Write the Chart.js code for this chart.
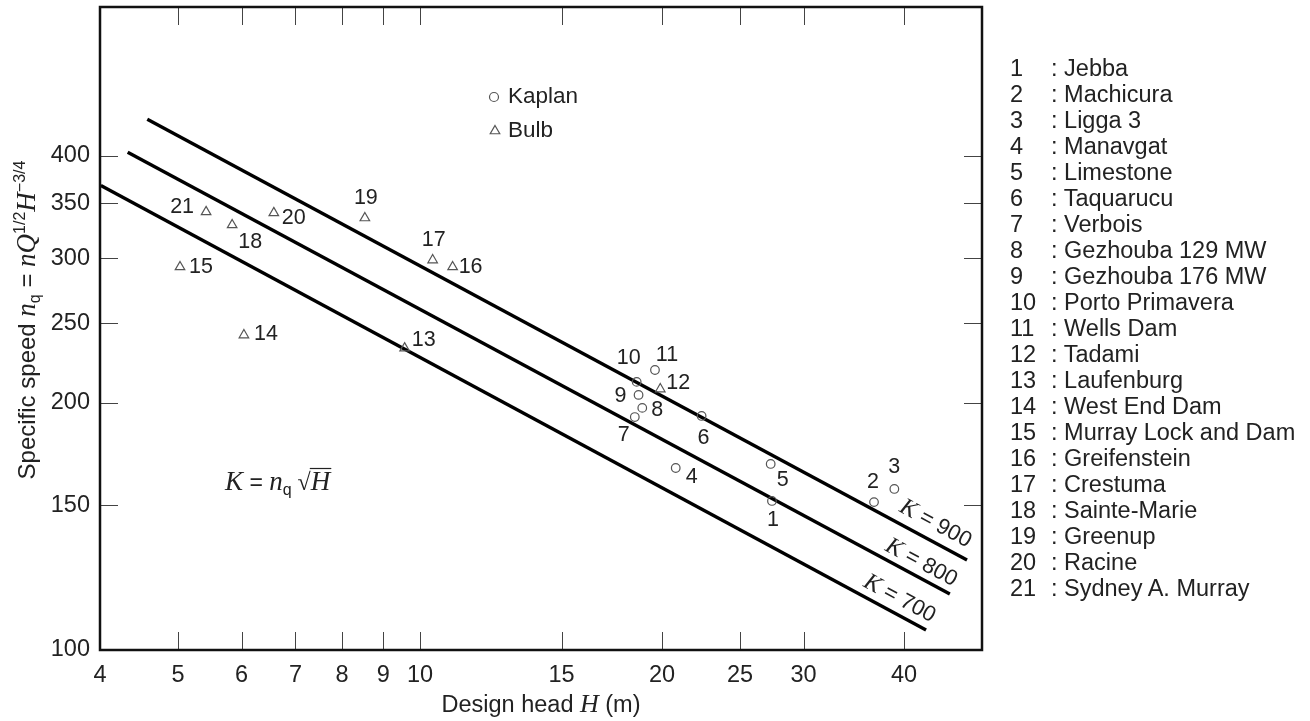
<!DOCTYPE html>
<html><head><meta charset="utf-8">
<script src="https://cdn.jsdelivr.net/npm/chart.js@4.4.0/dist/chart.umd.min.js"></script>
<style>
html,body{margin:0;padding:0;background:#fff;}
#wrap{position:relative;width:1310px;height:721px;overflow:hidden;}
#legendList{position:absolute;left:1010px;top:55px;font-family:"Liberation Sans",Arial,Helvetica,sans-serif;font-size:23.5px;color:#222;line-height:26px;white-space:nowrap;}
#legendList .n{display:inline-block;width:41px;}
</style></head><body>
<div id="wrap"><canvas id="c" width="1310" height="721"></canvas><div id="legendList"></div></div>
<script>
// ---- data ----
const stationNames = ["Jebba","Machicura","Ligga 3","Manavgat","Limestone","Taquarucu","Verbois","Gezhouba 129 MW","Gezhouba 176 MW","Porto Primavera","Wells Dam","Tadami","Laufenburg","West End Dam","Murray Lock and Dam","Greifenstein","Crestuma","Sainte-Marie","Greenup","Racine","Sydney A. Murray"];
const kaplanIds  = [1,2,3,4,5,6,7,8,9,10,11];
const kaplanHead = [27.4,36.7,38.9,20.8,27.3,22.4,18.5,18.9,18.7,18.6,19.6];
const kaplanNq   = [151.9,151.4,157.1,166.6,168.5,192.8,192.2,197.2,204.5,212.1,219.3];
const bulbIds  = [12,13,14,15,16,17,18,19,20,21];
const bulbHead = [19.9,9.57,6.04,5.03,10.98,10.37,5.84,8.54,6.58,5.42];
const bulbNq   = [207.9,233.2,241.9,292.8,292.8,298.5,329.4,335.9,340.7,341.7];
const kValues   = [900,800,700];
const kLineHead = [[4.58,47.9],[4.33,45.6],[4.01,42.6]];
const kLineNq   = [[443,128.7],[404,117.0],[368,105.8]];
const xTickValues = [4,5,6,7,8,9,10,15,20,25,30,40];
const yTickValues = [100,150,200,250,300,350,400];

// ---- styles ----
const SANS = '"Liberation Sans", Arial, Helvetica, sans-serif';
const SERIF = '"Liberation Serif", "Times New Roman", serif';
const TXT = '#222';
const MARK = '#555';
const labelOffsets = {1:[1,19],2:[-1,-20],3:[0,-22],4:[16,9],5:[12,16],6:[2,22],7:[-11,18],8:[15,2],9:[-18,1],10:[-8,-24],11:[12,-15],12:[18,-6],13:[19,-8],14:[22,-1],15:[21,0],16:[18,0],17:[1,-20],18:[18,17],19:[1,-20],20:[20,5],21:[-24,-5]};
const kLabelOffsets = [[-31,-37],[-28,-32],[-26,-32]];

// legend list (HTML text)
const ll = document.getElementById('legendList');
stationNames.forEach((n,i)=>{
  const d=document.createElement('div');
  d.innerHTML='<span class="n">'+(i+1)+'</span>: '+n;
  ll.appendChild(d);
});

function drawRuns(ctx, runs, x, y, align){
  let total=0;
  runs.forEach(r=>{ctx.font=r.font; r.w=ctx.measureText(r.t).width; total+=r.w;});
  let cx = align==='center' ? x-total/2 : x;
  runs.forEach(r=>{ctx.font=r.font; ctx.fillText(r.t, cx, y+(r.dy||0)); r.x=cx; cx+=r.w;});
  return total;
}
function circleMark(ctx,x,y,r){ctx.beginPath();ctx.arc(x,y,r,0,Math.PI*2);ctx.stroke();}
function triMark(ctx,x,y,r){
  ctx.beginPath();
  let a=0;
  ctx.moveTo(x+Math.sin(a)*r, y-Math.cos(a)*r);
  a+=2*Math.PI/3; ctx.lineTo(x+Math.sin(a)*r, y-Math.cos(a)*r);
  a+=2*Math.PI/3; ctx.lineTo(x+Math.sin(a)*r, y-Math.cos(a)*r);
  ctx.closePath(); ctx.stroke();
}

const decor = {
  id:'decor',
  afterDatasetsDraw(chart){
    const ctx=chart.ctx, a=chart.chartArea, xs=chart.scales.x, ys=chart.scales.y;
    ctx.save();
    // inward ticks on all four sides
    ctx.strokeStyle='#444'; ctx.lineWidth=1;
    const TL=18;
    xTickValues.forEach(v=>{
      const p=Math.round(xs.getPixelForValue(v))+0.5;
      ctx.beginPath(); ctx.moveTo(p,a.bottom); ctx.lineTo(p,a.bottom-TL);
      ctx.moveTo(p,a.top); ctx.lineTo(p,a.top+TL); ctx.stroke();
    });
    yTickValues.forEach(v=>{
      const p=Math.round(ys.getPixelForValue(v))+0.5;
      ctx.beginPath(); ctx.moveTo(a.left,p); ctx.lineTo(a.left+TL,p);
      ctx.moveTo(a.right,p); ctx.lineTo(a.right-TL,p); ctx.stroke();
    });
    // frame
    ctx.strokeStyle='#111'; ctx.lineWidth=2.5;
    ctx.strokeRect(a.left,a.top,a.right-a.left,a.bottom-a.top);

    // point labels
    ctx.fillStyle=TXT; ctx.font='21.5px '+SANS; ctx.textAlign='center'; ctx.textBaseline='middle';
    const lab=(ids,hs,ns)=>ids.forEach((id,i)=>{
      const px=xs.getPixelForValue(hs[i]), py=ys.getPixelForValue(ns[i]);
      const o=labelOffsets[id];
      ctx.fillText(String(id), px+o[0], py+o[1]);
    });
    lab(kaplanIds,kaplanHead,kaplanNq);
    lab(bulbIds,bulbHead,bulbNq);

    // K labels along lines
    ctx.textAlign='left'; ctx.textBaseline='middle';
    kValues.forEach((k,i)=>{
      const x1=xs.getPixelForValue(kLineHead[i][0]), y1=ys.getPixelForValue(kLineNq[i][0]);
      const x2=xs.getPixelForValue(kLineHead[i][1]), y2=ys.getPixelForValue(kLineNq[i][1]);
      const ang=Math.atan2(y2-y1,x2-x1);
      ctx.save();
      ctx.translate(x2+kLabelOffsets[i][0], y2+kLabelOffsets[i][1]);
      ctx.rotate(ang);
      drawRuns(ctx,[{t:'K',font:'italic 24px '+SERIF},{t:' = '+k,font:'22px '+SANS}],0,1,'center');
      ctx.restore();
    });

    // formula K = n_q sqrt(H)
    ctx.textBaseline='alphabetic'; ctx.textAlign='left';
    const runs=[{t:'K',font:'italic 27px '+SERIF},{t:' = ',font:'23px '+SANS},{t:'n',font:'italic 27px '+SERIF},
      {t:'q',font:'16px '+SANS,dy:5},{t:' \u221A',font:'24px '+SERIF},{t:'H',font:'italic 27px '+SERIF}];
    drawRuns(ctx,runs,225,490,'left');
    const hr=runs[5];
    ctx.strokeStyle=TXT; ctx.lineWidth=1.2;
    ctx.beginPath(); ctx.moveTo(hr.x-1,468.5); ctx.lineTo(hr.x+hr.w+1,468.5); ctx.stroke();

    // Kaplan / Bulb key
    ctx.strokeStyle=MARK; ctx.lineWidth=1.2;
    circleMark(ctx,494,97,4.5);
    triMark(ctx,495,131,5.5);
    ctx.fillStyle=TXT; ctx.font='22.5px '+SANS; ctx.textBaseline='middle';
    ctx.fillText('Kaplan',508,97);
    ctx.fillText('Bulb',508,131);

    // x axis title
    ctx.textBaseline='alphabetic';
    drawRuns(ctx,[{t:'Design head ',font:'23.5px '+SANS},{t:'H',font:'italic 26px '+SERIF},{t:' (m)',font:'23.5px '+SANS}],(a.left+a.right)/2,712,'center');

    // y axis title (rotated)
    ctx.save();
    ctx.translate(35,320); ctx.rotate(-Math.PI/2);
    drawRuns(ctx,[
      {t:'Specific speed ',font:'24px '+SANS},
      {t:'n',font:'italic 27px '+SERIF},
      {t:'q',font:'16px '+SANS,dy:5},
      {t:' = ',font:'24px '+SANS},
      {t:'nQ',font:'italic 27px '+SERIF},
      {t:'1/2',font:'16px '+SANS,dy:-10},
      {t:'H',font:'italic 27px '+SERIF},
      {t:'\u22123/4',font:'16px '+SANS,dy:-10}
    ],0,0,'center');
    ctx.restore();
    ctx.restore();
  }
};

const datasets = [];
kValues.forEach((k,i)=>{
  datasets.push({type:'line',label:'K = '+k,
    data:[{x:kLineHead[i][0],y:kLineNq[i][0]},{x:kLineHead[i][1],y:kLineNq[i][1]}],
    borderColor:'#000',borderWidth:3.4,pointRadius:0,fill:false,order:2});
});
datasets.push({type:'scatter',label:'Kaplan',
  data:kaplanHead.map((h,i)=>({x:h,y:kaplanNq[i]})),
  pointStyle:'circle',pointRadius:4.3,borderColor:MARK,borderWidth:1.2,backgroundColor:'rgba(255,255,255,0)',order:1});
datasets.push({type:'scatter',label:'Bulb',
  data:bulbHead.map((h,i)=>({x:h,y:bulbNq[i]})),
  pointStyle:'triangle',pointRadius:5.5,borderColor:MARK,borderWidth:1.2,backgroundColor:'rgba(255,255,255,0)',order:1});

new Chart(document.getElementById('c'),{
  data:{datasets},
  options:{
    responsive:false,animation:false,
    layout:{padding:{left:0,top:7,right:328,bottom:0}},
    plugins:{legend:{display:false},tooltip:{enabled:false}},
    scales:{
      x:{type:'logarithmic',min:4,max:50,
        grid:{display:false,drawTicks:false},border:{display:false},
        afterBuildTicks:s=>{s.ticks=xTickValues.map(v=>({value:v}));},
        afterFit:s=>{s.height=71;s.paddingLeft=0;s.paddingRight=0;},
        ticks:{autoSkip:false,maxRotation:0,padding:11,color:TXT,font:{family:SANS,size:23.5},callback:v=>String(v)}},
      y:{type:'logarithmic',min:100,max:607,
        grid:{display:false,drawTicks:false},border:{display:false},
        afterBuildTicks:s=>{s.ticks=yTickValues.map(v=>({value:v}));},
        afterFit:s=>{s.width=100;s.paddingTop=0;s.paddingBottom=0;},
        ticks:{autoSkip:false,padding:10,color:TXT,font:{family:SANS,size:23.5},callback:v=>String(v)}}
    }
  },
  plugins:[decor]
});
</script>
</body></html>
